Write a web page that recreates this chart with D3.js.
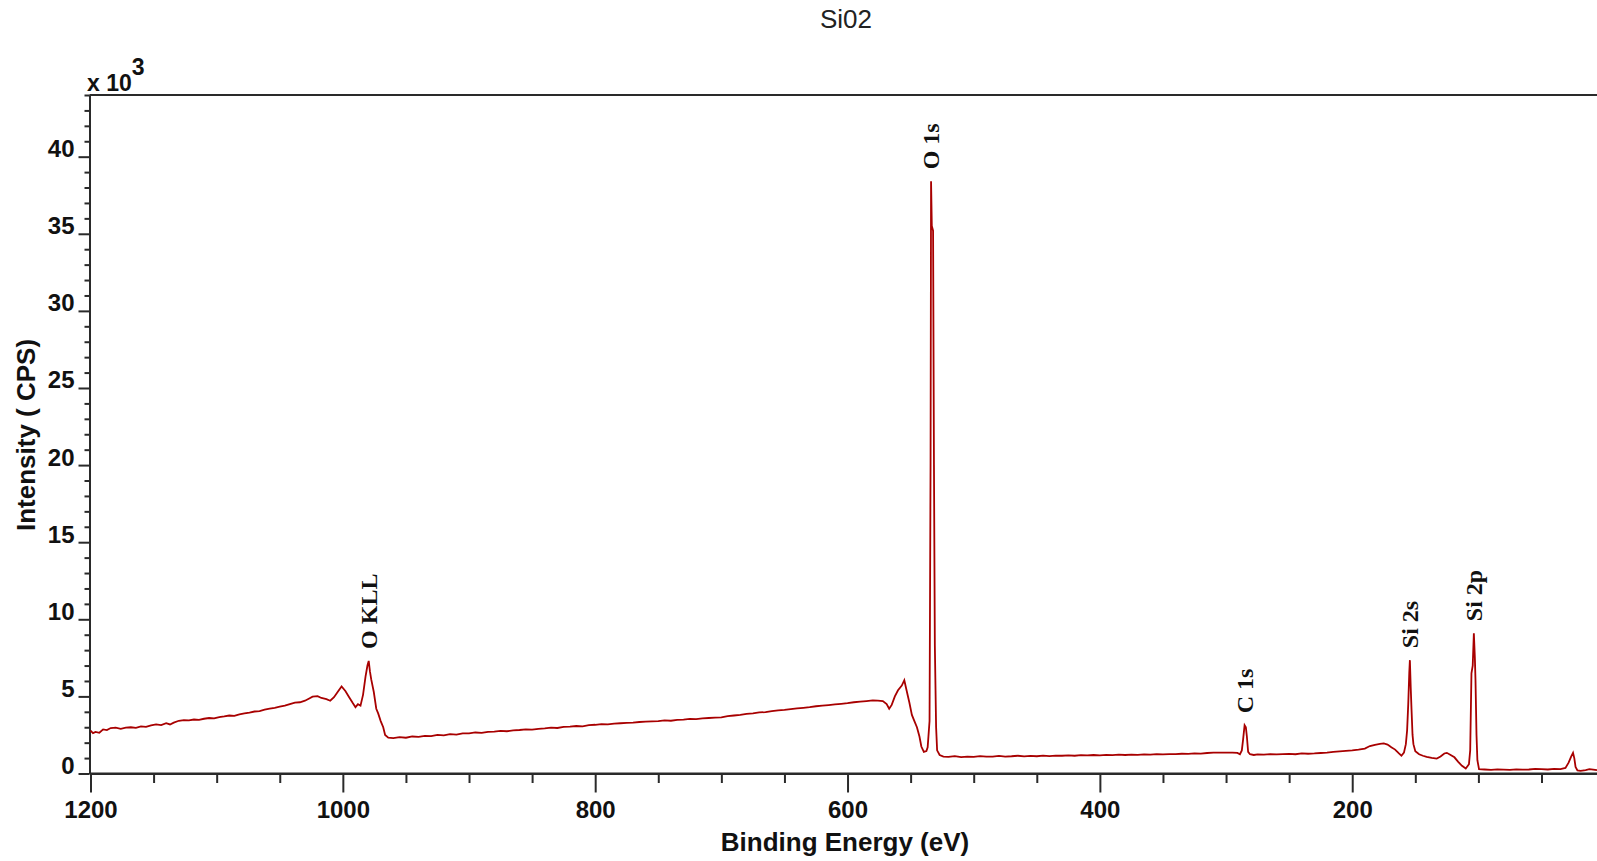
<!DOCTYPE html>
<html>
<head>
<meta charset="utf-8">
<script src="https://cdn.jsdelivr.net/npm/d3@7"></script>
<style>
  body { margin: 0; background: #fff; }
  #chart-area { width: 1597px; height: 861px; }
</style>
</head>
<body>
<div id="chart-area"></div>
<script>
// Data (binding energy in eV, intensity in x10^3 CPS)
var energy = [
  1200, 1198, 1196, 1193, 1190, 1187, 1184, 1180, 1176, 1172, 1168, 1164, 1160, 1156, 1152, 1148, 1144, 1140, 1137, 1134,
  1130, 1126, 1122, 1118, 1114, 1110, 1106, 1102, 1098, 1094, 1090, 1086, 1082, 1078, 1074, 1070, 1066, 1062, 1058, 1054,
  1050, 1046, 1042, 1038, 1034, 1030, 1027, 1024, 1020, 1017, 1013, 1010, 1007, 1004, 1001, 998, 995, 992, 990, 988,
  986, 984, 982, 980.5, 979.5, 978.5, 977.5, 975.5, 973.5, 972, 970, 968, 966.5, 964, 960,
  955, 950, 945, 940, 935, 930, 925, 920, 915, 910, 905, 900, 895, 890, 885, 880, 875, 870, 865, 860,
  855, 850, 845, 840, 835, 830, 825, 820, 815, 810, 805, 800, 795, 790, 785, 780, 775, 770, 765, 760,
  755, 750, 745, 740, 735, 730, 725, 720, 715, 710, 705, 700, 695, 690, 685, 680, 675, 670, 665, 660,
  655, 650, 645, 640, 635, 630, 625, 620, 615, 610, 605, 600, 595, 590, 585, 580, 576, 572, 569, 567,
  565, 562.5, 560, 557, 555, 553.5, 551, 549, 547, 545, 543, 541.5, 539.5, 537.5, 536.5, 535, 534.2, 533.8, 533.2, 532.2,
  531.5, 530.8, 529.8, 529, 527, 524,
  520, 515, 510, 505, 500, 495, 490, 485, 480, 475, 470, 465, 460, 455, 450, 445, 440, 435, 430, 425,
  420, 415, 410, 405, 400, 395, 390, 385, 380, 375, 370, 365, 360, 355, 350, 345, 340, 335, 330, 325,
  320, 315, 310, 305, 300, 295, 291, 289, 287.5, 286.5, 285.3, 284.3, 283.5, 282.5, 281, 278, 275, 270, 265, 260,
  255, 250, 245, 240, 235, 230, 225, 220, 215, 210, 205, 200, 195, 190, 186, 182, 178, 175, 172, 169,
  166, 163, 161, 159, 157.5, 156.5, 155.6, 154.8, 154.3, 153.6, 153, 152.2, 151.5, 150, 147, 144, 141, 137, 133, 130,
  127, 125, 122, 119, 116, 113, 110, 107.5, 106.5, 105.5, 104.5, 103.6, 102.8, 102.3, 101.5, 100.8, 99.5, 95, 90, 85,
  80, 75, 70, 65, 60, 55, 50, 45, 40, 35, 31, 28.5, 26.5, 25, 24, 23, 21.5, 19, 15, 12,
  9, 6
];
var counts = [
  2.78, 2.62, 2.7, 2.64, 2.86, 2.82, 2.95, 2.98, 2.9, 2.97, 3.0, 2.96, 3.05, 3.02, 3.12, 3.18, 3.14, 3.26, 3.18, 3.3,
  3.42, 3.46, 3.44, 3.5, 3.48, 3.55, 3.6, 3.58, 3.66, 3.7, 3.76, 3.74, 3.84, 3.9, 3.95, 4.02, 4.05, 4.14, 4.2, 4.26,
  4.34, 4.4, 4.5, 4.6, 4.62, 4.72, 4.85, 4.98, 5.02, 4.9, 4.82, 4.72, 4.95, 5.3, 5.65, 5.35, 4.95, 4.55, 4.3, 4.5,
  4.4, 5.1, 6.3, 7.0, 7.3, 6.6, 6.1, 5.3, 4.2, 3.9, 3.4, 3.0, 2.5, 2.32, 2.3,
  2.36, 2.32, 2.4, 2.38, 2.44, 2.42, 2.5, 2.47, 2.55, 2.52, 2.6, 2.6, 2.66, 2.63, 2.7, 2.72, 2.76, 2.74, 2.8, 2.82,
  2.86, 2.84, 2.9, 2.92, 2.97, 2.95, 3.02, 3.04, 3.08, 3.06, 3.14, 3.16, 3.2, 3.18, 3.24, 3.26, 3.28, 3.3, 3.34, 3.36,
  3.38, 3.4, 3.44, 3.42, 3.48, 3.5, 3.54, 3.52, 3.58, 3.6, 3.62, 3.64, 3.72, 3.76, 3.8, 3.86, 3.9, 3.96, 3.98, 4.05,
  4.1, 4.12, 4.18, 4.22, 4.26, 4.3, 4.36, 4.4, 4.44, 4.48, 4.52, 4.56, 4.62, 4.66, 4.7, 4.74, 4.72, 4.7, 4.5, 4.2,
  4.45, 5.0, 5.4, 5.7, 6.05, 5.5, 4.6, 3.8, 3.4, 3.0, 2.4, 1.75, 1.4, 1.45, 1.7, 3.4, 20, 38.4, 35.5, 35.2,
  20, 8.3, 3.0, 1.5, 1.2, 1.1,
  1.08, 1.12, 1.06, 1.1, 1.08, 1.13, 1.09, 1.1, 1.14, 1.1, 1.12, 1.15, 1.11, 1.14, 1.12, 1.16, 1.13, 1.16, 1.15, 1.18,
  1.15, 1.19, 1.17, 1.2, 1.18, 1.21, 1.19, 1.22, 1.2, 1.23, 1.21, 1.24, 1.22, 1.25, 1.24, 1.26, 1.25, 1.28, 1.27, 1.3,
  1.29, 1.33, 1.35, 1.36, 1.35, 1.36, 1.34, 1.25, 1.5, 2.2, 3.13, 3.0, 2.4, 1.4, 1.25, 1.2, 1.24, 1.22, 1.25, 1.24,
  1.26, 1.27, 1.25, 1.3, 1.28, 1.3, 1.33, 1.36, 1.4, 1.44, 1.47, 1.5, 1.55, 1.62, 1.78, 1.86, 1.92, 1.95, 1.88, 1.7,
  1.55, 1.3, 1.15, 1.35, 1.9, 2.8, 4.5, 6.5, 7.35, 5.5, 4.15, 2.5, 1.9, 1.45, 1.25, 1.15, 1.08, 1.02, 0.97, 1.1,
  1.3, 1.34, 1.2, 1.05, 0.75, 0.5, 0.32, 0.6, 1.5, 6.5, 7.0, 9.1, 7.5, 6.05, 2.5, 0.86, 0.28, 0.26, 0.24, 0.27,
  0.25, 0.23, 0.27, 0.25, 0.26, 0.3, 0.28, 0.26, 0.3, 0.28, 0.36, 0.7, 1.1, 1.34, 1.0, 0.43, 0.2, 0.17, 0.22, 0.28,
  0.25, 0.22
];

// Peak labels
var peakLabels = ["O KLL", "O 1s", "C 1s", "Si 2s", "Si 2p"];
var peakEnergies = [979.5, 533.8, 285.3, 154.3, 103.6];

// Ticks
var xMajorTicks = [1200, 1000, 800, 600, 400, 200];
var xMinorTicks = [1150, 1100, 1050, 950, 900, 850, 750, 700, 650, 550, 500, 450, 350, 300, 250, 150, 100, 50];
var yMajorTicks = [0, 5, 10, 15, 20, 25, 30, 35, 40];
var yMinorTicks = d3.range(0, 45).filter(function(d) { return d % 5 !== 0; });

var width = 1597;
var height = 861;

var svg = d3.select("#chart-area")
    .append("svg")
    .attr("width", width)
    .attr("height", height);

// Scales
var x = d3.scaleLinear()
    .domain([1200, 6])
    .range([90.5, 1597]);

var y = d3.scaleLinear()
    .domain([0, 44])
    .range([773.5, 95]);

var axisColor = "#2a2a2a";

// Title
svg.append("text")
    .attr("x", 846)
    .attr("y", 28)
    .attr("text-anchor", "middle")
    .attr("font-family", "Liberation Sans, Arial, sans-serif")
    .attr("font-size", "26px")
    .style("fill", "#222")
    .text("Si02");

// Top frame line
svg.append("line")
    .attr("x1", x(1200) - 1)
    .attr("x2", width)
    .attr("y1", y(44))
    .attr("y2", y(44))
    .attr("stroke", axisColor)
    .attr("stroke-width", 2);

// Bottom axis (minor then major)
var bottomMinor = d3.axisBottom(x).tickValues(xMinorTicks).tickSize(9.5).tickFormat("").tickSizeOuter(0);
var bottomMajor = d3.axisBottom(x).tickValues(xMajorTicks).tickSize(19).tickSizeOuter(0).tickFormat(d3.format("d"));

svg.append("g")
    .attr("transform", "translate(0," + y(0) + ")")
    .call(bottomMinor);

var gx = svg.append("g")
    .attr("class", "bottom axis")
    .attr("transform", "translate(0," + y(0) + ")")
    .call(bottomMajor);

gx.selectAll("text")
    .attr("y", 44)
    .attr("dy", 0)
    .attr("font-family", "Liberation Sans, Arial, sans-serif")
    .attr("font-weight", "bold")
    .attr("font-size", "24px")
    .style("fill", "#111");

// Left axis (minor then major)
var leftMinor = d3.axisLeft(y).tickValues(yMinorTicks).tickSize(5).tickFormat("").tickSizeOuter(0);
var leftMajor = d3.axisLeft(y).tickValues(yMajorTicks).tickSize(11).tickSizeOuter(0).tickFormat(d3.format("d"));

svg.append("g")
    .attr("transform", "translate(" + (x(1200) - 1) + ",0)")
    .call(leftMinor);

var gy = svg.append("g")
    .attr("class", "left axis")
    .attr("transform", "translate(" + (x(1200) - 1) + ",0)")
    .call(leftMajor);

gy.selectAll("text")
    .attr("x", -15)
    .attr("dy", 0)
    .attr("font-family", "Liberation Sans, Arial, sans-serif")
    .attr("font-weight", "bold")
    .attr("font-size", "24px")
    .style("fill", "#111");

svg.selectAll(".domain, .tick line")
    .attr("stroke", axisColor)
    .attr("stroke-width", 2);

// Extend the bottom axis line to the right edge
svg.append("line")
    .attr("x1", x(1200) - 1)
    .attr("x2", width)
    .attr("y1", y(0))
    .attr("y2", y(0))
    .attr("stroke", axisColor)
    .attr("stroke-width", 2);

// Multiplier label
var mult = svg.append("text")
    .attr("x", 87)
    .attr("y", 91)
    .attr("font-family", "Liberation Sans, Arial, sans-serif")
    .attr("font-weight", "bold")
    .attr("font-size", "23px")
    .style("fill", "#111");
mult.append("tspan").text("x 10");
mult.append("tspan").attr("dy", -16).text("3");

// Axis labels
svg.append("text")
    .attr("x", 845)
    .attr("y", 851)
    .attr("text-anchor", "middle")
    .attr("font-family", "Liberation Sans, Arial, sans-serif")
    .attr("font-weight", "bold")
    .attr("font-size", "26px")
    .style("fill", "#111")
    .text("Binding Energy (eV)");

svg.append("text")
    .attr("transform", "translate(35,435) rotate(-90)")
    .attr("text-anchor", "middle")
    .attr("font-family", "Liberation Sans, Arial, sans-serif")
    .attr("font-weight", "bold")
    .attr("font-size", "26px")
    .style("fill", "#111")
    .text("Intensity ( CPS)");

// Spectrum
var data = energy.map(function(e, i) { return {e: e, c: counts[i]}; });

var line = d3.line()
    .x(function(d) { return x(d.e); })
    .y(function(d) { return y(d.c); });

svg.append("path")
    .datum(data)
    .attr("d", line)
    .attr("fill", "none")
    .attr("stroke", "#a80000")
    .attr("stroke-width", 1.8)
    .attr("stroke-linejoin", "miter");

// Peak labels
peakLabels.forEach(function(label, i) {
    var e = peakEnergies[i];
    var top = d3.max(data.filter(function(d) { return Math.abs(d.e - e) < 3; }), function(d) { return d.c; });
    svg.append("text")
        .attr("transform", "translate(" + x(e) + "," + (y(top) - 12) + ") rotate(-90)")
        .attr("dy", "0.33em")
        .attr("font-family", "Liberation Serif, Times New Roman, serif")
        .attr("font-weight", "bold")
        .attr("font-size", "24px")
        .style("fill", "#111")
        .text(label);
});
</script>
</body>
</html>
